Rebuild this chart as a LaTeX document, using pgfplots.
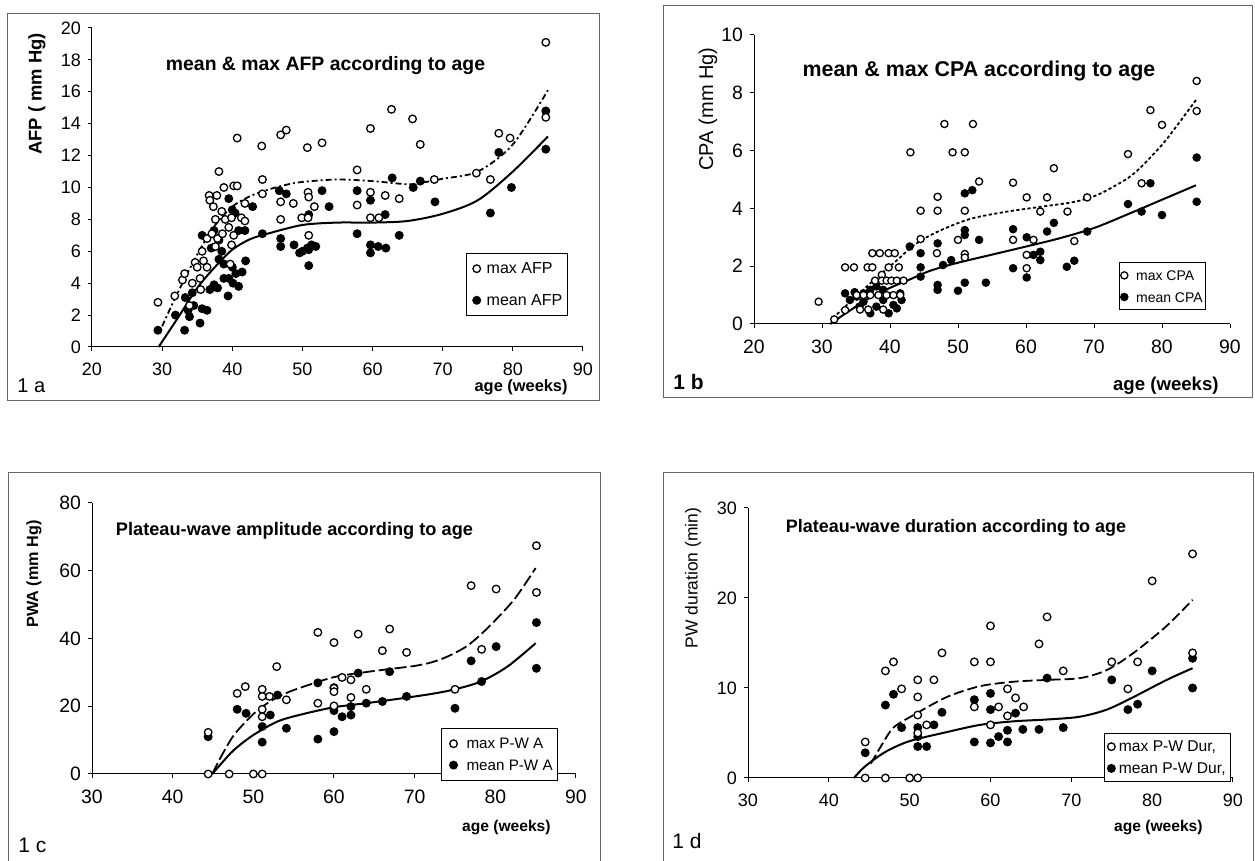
\documentclass[border=0pt]{standalone}
\usepackage{fontspec}
\setmainfont{Liberation Sans}
\usepackage{pgfplots}
\pgfplotsset{compat=1.18}
\newcommand{\fs}[1]{\fontsize{#1}{#1}\selectfont}
\pgfplotsset{
  panel/.style={
    scale only axis, anchor=south west,
    axis lines=left,
    axis line style={-, line width=0.5pt, black},
    tick align=outside, major tick length=2pt,
    tick style={black, line width=0.5pt},
    /pgf/number format/assume math mode=true,
    clip=false, xtick distance=10,
    xticklabel style={yshift=-2.5pt},
    legend cell align=left, reverse legend,
    legend style={draw=black, line width=0.6pt, fill=white, anchor=north west,
      nodes={inner xsep=1pt, inner ysep=0pt, text height=0.72em, text depth=0.2em}},
  },
  limg/.style 2 args={legend image code/.code={\path[draw=none,fill=none] (-#1,0) -- (#2,0); \draw[##1] plot coordinates {(0pt,0pt)};}},
  maxm/.style={only marks, mark=*, mark size=#1,
    mark options={fill=white, draw=black, line width=0.65pt}},
  meanm/.style={only marks, mark=*, mark size=#1,
    mark options={fill=black, draw=black, line width=0.65pt}},
  fitsolid/.style={no marks, smooth, black, line width=1pt, forget plot},
}
\begin{document}
\begin{tikzpicture}
% ---------------- 1a ----------------
\begin{axis}[panel, at={(46pt,257pt)}, width=245.5pt, height=159.5pt,
  xmin=20, xmax=90, ymin=0, ymax=20, ytick distance=2,
  tick label style={font=\fs{9}}, limg={3.5pt}{4pt},
  legend style={at={(0.762,0.295)}, font=\fs{8}, row sep=6.6pt, inner xsep=1.5pt, inner ysep=3pt}]
\addplot[fitsolid] coordinates {(29.5,0) (31,1.0) (32.5,2.0) (35,3.7) (37.5,5.0) (40,6.1) (42.5,6.75) (45,7.1) (50,7.65) (55,7.8) (60,7.8) (65,7.9) (70,8.35) (75,9.2) (80,11.0) (85,13.2)};
\addplot[fitsolid, line width=0.9pt, dash pattern=on 3pt off 1.5pt on 1pt off 1.5pt] coordinates {(30,1.3) (32,3.2) (35,5.8) (37.5,7.6) (40,8.8) (42.5,9.45) (45,9.85) (47.5,10.15) (50,10.35) (55,10.5) (60,10.4) (65,10.2) (67,10.3) (70,10.55) (75,11.0) (80,12.7) (85,16.1)};
\addplot[meanm=1.9pt] coordinates {
(29.4,1.05) (31.9,2.0) (33.2,1.05) (33.3,3.1) (33.7,2.3) (33.9,1.9) (34.3,3.4) (34.5,2.6)
(35.4,1.5) (35.7,2.4) (35.7,7.0) (36.4,2.3) (36.8,3.6) (37.0,6.2) (37.4,3.9) (37.4,7.3)
(37.9,3.7) (38.1,6.7) (38.1,5.5) (38.5,6.0) (38.8,5.2) (38.8,4.3) (39.4,3.2) (39.5,4.3)
(39.5,9.3) (40.0,8.6) (40.0,5.0) (40.1,4.0) (40.4,8.4) (40.5,4.6) (40.9,7.3) (40.9,3.8)
(41.4,4.7) (41.8,7.3) (41.9,5.4) (42.9,8.8) (44.3,7.1) (46.7,9.8) (46.9,6.8) (46.9,6.3)
(47.7,9.6) (48.8,6.4) (49.6,5.9) (50.0,6.0) (50.7,6.2) (50.9,5.1) (50.9,6.1) (50.9,8.3)
(51.3,6.4) (51.9,6.3) (52.8,9.8) (53.8,8.8) (57.8,9.8) (57.8,7.1) (59.7,9.2) (59.7,6.4)
(59.7,5.9) (60.8,6.3) (61.8,8.3) (61.9,6.2) (62.8,10.6) (63.8,7.0) (65.8,10.0) (66.8,10.4)
(68.9,9.1) (76.8,8.4) (78.0,12.2) (79.8,10.0) (84.7,14.8) (84.7,12.4)};
\addlegendentry{mean AFP}
\addplot[maxm=1.9pt] coordinates {
(29.4,2.8) (31.8,3.2) (32.9,4.2) (33.2,4.6) (33.9,2.6) (34.3,4.0) (34.7,5.3) (35.0,5.0)
(35.4,4.3) (35.5,3.6) (35.7,6.0) (35.9,5.4) (36.4,5.0) (36.4,6.8) (36.7,9.5) (36.8,9.2)
(37.1,7.1) (37.3,8.8) (37.6,8.0) (37.6,6.3) (37.8,9.5) (37.9,6.8) (38.1,11.0) (38.5,8.5)
(38.6,7.1) (38.8,10.0) (39.0,8.0) (39.5,7.5) (39.7,5.2) (39.9,8.1) (39.9,6.4) (40.2,10.1)
(40.2,7.0) (40.7,10.1) (40.7,13.1) (41.3,8.1) (41.8,9.0) (41.8,7.9) (44.2,12.6) (44.3,10.5)
(44.3,9.6) (46.9,13.3) (46.9,9.1) (46.9,8.0) (47.7,13.6) (48.7,9.0) (49.9,8.1) (50.7,12.5)
(50.8,9.7) (50.9,9.4) (50.8,8.1) (50.9,7.0) (51.7,8.8) (52.8,12.8) (57.8,11.1) (57.8,8.9)
(59.7,13.7) (59.7,9.7) (59.7,8.1) (60.9,8.1) (61.8,9.5) (62.7,14.9) (63.8,9.3) (65.7,14.3)
(66.8,12.7) (68.8,10.5) (74.8,10.9) (76.8,10.5) (78.0,13.4) (79.6,13.1) (84.7,19.1) (84.7,14.4)};
\addlegendentry{max AFP}
\end{axis}
% ---------------- 1b ----------------
\begin{axis}[panel, at={(377pt,268.5pt)}, width=238pt, height=144.5pt,
  xmin=20, xmax=90, ymin=0, ymax=10, ytick distance=2,
  tick label style={font=\fs{9.7}}, limg={0pt}{4.9pt},
  legend style={at={(0.767,0.2145)}, font=\fs{7}, row sep=1.6pt, inner xsep=0.5pt, inner ysep=1.8pt}]
\addplot[fitsolid] coordinates {(31.2,0) (34,0.45) (37,0.9) (40,1.25) (43,1.55) (46,1.85) (50,2.12) (55,2.4) (60,2.68) (65,2.97) (70,3.32) (75,3.8) (80,4.3) (85,4.8)};
\addplot[fitsolid, line width=0.9pt, dash pattern=on 1.6pt off 1.2pt] coordinates {(31.6,0.2) (35,0.95) (38,1.6) (41,2.2) (43,2.63) (45,2.95) (48,3.3) (52,3.65) (57,3.88) (62,4.05) (67,4.22) (70,4.42) (72,4.64) (75,5.05) (77,5.45) (80,6.2) (82,6.8) (85,7.75)};
\addplot[meanm=1.8pt] coordinates {
(33.4,1.06) (34.1,0.83) (35.1,0.95) (36.1,0.77) (36.1,1.06) (37.1,0.37) (37.1,1.18) (38.0,0.6)
(38.0,1.3) (39.0,0.83) (39.0,1.18) (39.8,0.37) (40.5,0.66) (41.0,0.54) (41.5,1.06) (41.7,0.83)
(35.5,0.6) (34.8,1.1) (42.9,2.68) (44.5,2.45) (44.5,1.96) (44.5,1.64) (47.0,2.79) (47.0,1.35)
(47.0,1.18) (47.8,2.04) (49.0,2.21) (50.0,1.15) (51.0,1.43) (51.0,3.25) (51.0,3.08) (51.0,4.52)
(52.1,4.63) (53.1,2.91) (54.1,1.43) (58.1,3.28) (58.1,1.93) (60.1,3.0) (60.1,1.61) (61.1,2.39)
(62.1,2.5) (62.1,2.21) (63.1,3.2) (64.1,3.5) (66.0,1.98) (67.1,2.19) (69.0,3.2) (75.0,4.15)
(77.0,3.89) (78.3,4.87) (80.0,3.77) (85.1,5.76) (85.1,4.23)};
\addlegendentry{mean CPA}
\addplot[maxm=1.8pt] coordinates {
(29.5,0.77) (31.8,0.16) (33.4,0.48) (33.4,1.96) (34.7,1.96) (36.7,1.96) (37.4,1.96) (37.4,2.45)
(38.5,2.45) (39.8,2.45) (40.7,2.45) (39.8,1.96) (41.3,1.96) (38.8,1.7) (37.8,1.5) (38.8,1.5)
(39.5,1.5) (40.2,1.5) (41.0,1.5) (42.0,1.5) (35.1,1.0) (36.1,1.0) (37.1,1.0) (38.3,1.0)
(39.5,1.0) (40.5,1.0) (41.5,1.0) (35.6,0.5) (36.8,0.5) (39.0,0.5) (43.0,5.94) (44.5,3.92)
(44.5,2.94) (46.9,2.45) (47.0,3.92) (47.0,4.4) (48.0,6.92) (49.2,5.94) (51.0,5.94) (52.2,6.92)
(51.0,3.92) (53.1,4.93) (50.0,2.91) (51.0,2.42) (51.0,2.3) (58.1,4.89) (58.1,2.91) (60.1,4.38)
(60.1,2.39) (60.1,1.93) (61.1,2.91) (62.1,3.89) (63.1,4.38) (64.1,5.39) (66.1,3.89) (67.1,2.87)
(69.0,4.38) (75.0,5.88) (77.0,4.87) (78.3,7.4) (80.0,6.89) (85.1,8.41) (85.1,7.37)};
\addlegendentry{max CPA}
\end{axis}
% ---------------- 1c ----------------
\begin{axis}[panel, at={(46pt,43.5pt)}, width=242pt, height=135.5pt,
  xmin=30, xmax=90, ymin=0, ymax=80, ytick distance=20,
  tick label style={font=\fs{9.7}}, limg={4.5pt}{5.5pt},
  legend style={at={(0.721,0.170)}, font=\fs{7.6}, row sep=1.5pt, inner xsep=1.5pt, inner ysep=3pt}]
\addplot[fitsolid] coordinates {(44.9,0) (46,3.0) (47.6,7.1) (50,11.5) (53,15.5) (56,17.6) (60,19.7) (64,20.9) (68,22.2) (72,23.6) (75,25) (78.2,27.3) (81.5,31.7) (85,38.6)};
\addplot[fitsolid, line width=0.9pt, dash pattern=on 6pt off 2pt] coordinates {(44.9,0) (46,5.1) (47.6,11.5) (50,17.7) (52,21.3) (54,23.8) (56,25.6) (60,28.6) (64,30.1) (68,31.3) (70,31.9) (72,32.9) (74,34.6) (76.5,37.8) (79,43) (82.3,51.4) (85,60.8)};
\addplot[meanm=1.9pt] coordinates {
(44.4,11.0) (48.0,19.1) (49.1,17.9) (51.1,14.0) (51.1,9.4) (52.1,17.4) (53.0,23.3) (54.1,13.5)
(58.0,26.9) (58.0,10.3) (60.0,25.5) (60.0,18.7) (60.0,12.5) (61.0,16.9) (62.1,17.4) (62.1,19.9)
(63.0,29.8) (64.0,20.9) (66.0,21.4) (66.9,30.2) (69.0,22.9) (75.0,19.4) (77.0,33.4) (78.3,27.3)
(80.1,37.6) (85.1,44.7) (85.1,31.2)};
\addlegendentry{mean P-W A}
\addplot[maxm=1.9pt] coordinates {
(44.4,12.3) (44.4,0) (47.0,0) (50.0,0) (51.1,0) (48.0,23.8) (49.0,25.8) (51.1,25.0)
(51.1,22.9) (51.1,19.1) (51.1,16.9) (52.0,22.9) (52.9,31.7) (54.1,21.9) (58.0,41.8) (58.0,20.9)
(60.0,38.8) (60.0,25.3) (60.0,24.3) (60.0,20.1) (61.0,28.5) (62.1,27.8) (62.1,22.6) (63.0,41.3)
(64.0,25.0) (66.0,36.4) (66.9,42.8) (69.0,35.9) (75.0,25.0) (77.0,55.6) (78.3,36.8) (80.1,54.6)
(85.1,67.4) (85.1,53.6)};
\addlegendentry{max P-W A}
\end{axis}
% ---------------- 1d ----------------
\begin{axis}[panel, at={(374pt,41.5pt)}, width=242.5pt, height=135pt,
  xmin=30, xmax=90, ymin=0, ymax=30, ytick distance=10,
  tick label style={font=\fs{9}}, limg={1.3pt}{2.8pt},
  legend style={at={(0.734,0.167)}, font=\fs{7.8}, row sep=1.65pt, inner xsep=1.5pt, inner ysep=2pt}]
\addplot[fitsolid] coordinates {(43.1,0) (44.5,1.3) (47,2.9) (50,4.1) (54.6,5.1) (58.7,5.9) (62.9,6.3) (67,6.5) (71,6.8) (74.4,7.6) (77.7,9.0) (81.8,10.9) (85,12.2)};
\addplot[fitsolid, line width=0.9pt, dash pattern=on 5pt off 2pt] coordinates {(45.2,1.6) (46.5,3.6) (48,5.6) (50.5,7.0) (54.6,9.0) (58.7,10.2) (62.9,10.7) (67,10.9) (71.1,11.1) (74.4,12.0) (77.7,13.9) (81.8,16.9) (85,19.8)};
\addplot[meanm=1.9pt] coordinates {
(44.5,2.8) (47.0,8.1) (48.0,9.3) (49.0,5.6) (51.0,5.6) (51.0,4.6) (51.0,3.5) (52.1,3.5)
(53.0,5.9) (54.0,7.3) (58.0,8.7) (58.0,4.0) (60.0,9.4) (60.0,7.6) (60.0,3.9) (61.0,4.6)
(62.1,5.3) (62.1,4.0) (63.1,7.2) (64.0,5.4) (66.0,5.4) (67.0,11.1) (69.0,5.6) (75.0,10.9)
(77.0,7.6) (78.2,8.2) (80.0,11.9) (85.0,13.3) (85.0,10.0)};
\addlegendentry{mean P-W Dur,}
\addplot[maxm=1.9pt] coordinates {
(44.5,0) (47.0,0) (50.0,0) (51.0,0) (44.5,4.0) (47.0,11.9) (48.0,12.9) (49.0,9.9)
(51.0,10.9) (51.0,9.0) (51.0,7.0) (51.0,5.0) (52.1,5.9) (53.0,10.9) (54.0,13.9) (58.0,12.9)
(58.0,7.9) (60.0,16.9) (60.0,12.9) (60.0,5.9) (61.0,7.9) (62.1,9.9) (62.1,6.9) (63.1,8.9)
(64.1,7.9) (66.0,14.9) (67.0,17.9) (69.0,11.9) (75.0,12.9) (77.0,9.9) (78.2,12.9) (80.0,21.9)
(85.0,24.9) (85.0,13.9)};
\addlegendentry{max P-W Dur,}
\end{axis}
% ---------------- frames and texts (pixel coordinates) ----------------
\begin{scope}[x=0.5pt, y=-0.5pt, shift={(0,430.5pt)}]
\draw[line width=0.5pt, black!60] (7,14) rectangle (599,401);
\draw[line width=0.5pt, black!60] (663,6) rectangle (1252,398);
\draw[line width=0.5pt, black!60] (8,473) rectangle (600,875);
\draw[line width=0.5pt, black!60] (663,473) rectangle (1253,875);
% 1a
\node[anchor=base, font=\bfseries\fs{9.7}] at (325.5,71) {mean \& max AFP according to age};
\node[rotate=90, font=\bfseries\fs{9.2}] at (37,94) {AFP ( mm Hg)};
\node[anchor=base east, inner sep=0pt, font=\bfseries\fs{8.2}] at (568,392) {age (weeks)};
\node[anchor=base west, inner sep=0pt, font=\fs{10}] at (17,393) {1 a};
% 1b
\node[anchor=base, font=\bfseries\fs{10.7}] at (979,77) {mean \& max CPA according to age};
\node[rotate=90, font=\fs{10}] at (708,109) {CPA (mm Hg)};
\node[anchor=base east, inner sep=0pt, font=\bfseries\fs{9.3}] at (1219,391) {age (weeks)};
\node[anchor=base west, inner sep=0pt, font=\bfseries\fs{10.5}] at (673,390) {1 b};
% 1c
\node[anchor=base, font=\bfseries\fs{9.1}] at (294.5,536) {Plateau-wave amplitude according to age};
\node[rotate=90, font=\bfseries\fs{8.1}] at (34,574) {PWA (mm Hg)};
\node[anchor=base east, inner sep=0pt, font=\bfseries\fs{7.8}] at (551,832) {age (weeks)};
\node[anchor=base west, inner sep=0pt, font=\fs{10.5}] at (18,853) {1 c};
% 1d
\node[anchor=base, font=\bfseries\fs{9}] at (956,533) {Plateau-wave duration according to age};
\node[rotate=90, font=\fs{8.7}] at (693,578) {PW duration (min)};
\node[anchor=base east, inner sep=0pt, font=\bfseries\fs{7.8}] at (1203,832) {age (weeks)};
\node[anchor=base west, inner sep=0pt, font=\fs{10.5}] at (672,849) {1 d};
\pgfresetboundingbox
\path[use as bounding box] (0,0) rectangle (1255,861);
\end{scope}
\end{tikzpicture}
\end{document}
